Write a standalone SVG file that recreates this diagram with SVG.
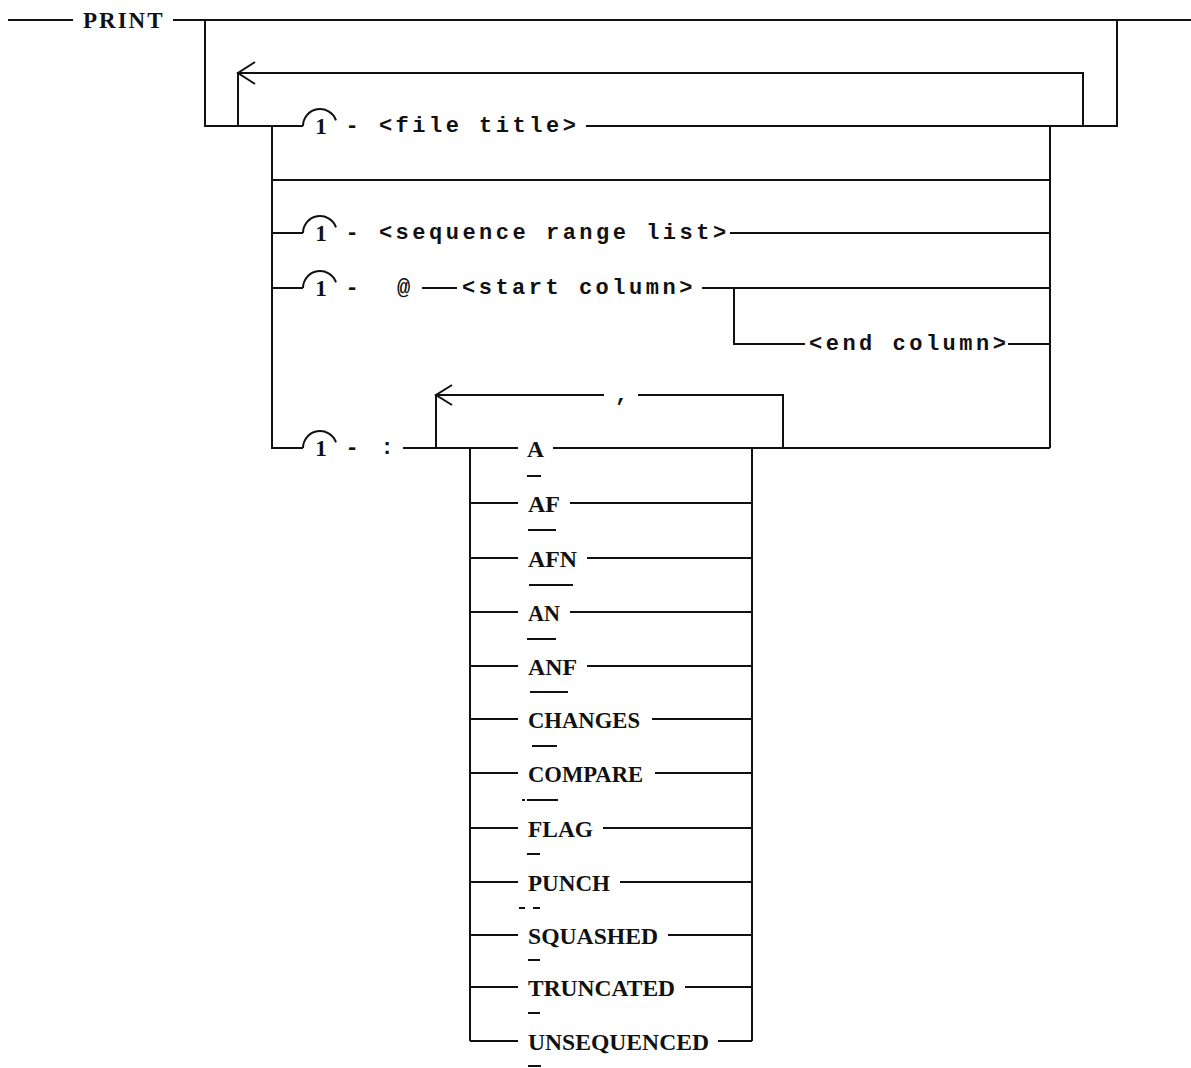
<svg xmlns="http://www.w3.org/2000/svg" width="1191" height="1068" viewBox="0 0 1191 1068">
<style>
.ln{fill:none;stroke:#111;stroke-width:2;stroke-linecap:butt;stroke-linejoin:miter}
.ul{fill:none;stroke:#111;stroke-width:2}
.kw{font-family:"Liberation Serif","Times New Roman",serif;font-weight:bold;font-size:24px;fill:#111}
.one{font-family:"Liberation Serif","Times New Roman",serif;font-weight:bold;font-size:23px;fill:#111}
.mono{font-family:"Liberation Mono","Courier New",monospace;font-weight:bold;font-size:22px;letter-spacing:3.5px;fill:#111}
.title{font-family:"Liberation Serif","Times New Roman",serif;font-weight:bold;font-size:23px;letter-spacing:2px;fill:#111}
</style>
<rect width="1191" height="1068" fill="#fff"/>
<g id="connectors">
<path class="ln" d="M8,20 H73"/>
<path class="ln" d="M173,20 H1191"/>
<path class="ln" d="M205,20 V126 H303"/>
<path class="ln" d="M238,126 V73 H1083 V126"/>
<path class="ln" d="M255,62 L238,73 L255,84"/>
<path class="ln" d="M586,126 H1117 V20"/>
<path class="ln" d="M272,126 V448 H303"/>
<path class="ln" d="M1050,126 V448"/>
<path class="ln" d="M272,180 H1050"/>
<path class="ln" d="M272,233 H303 M730,233 H1050"/>
<path class="ln" d="M272,288 H303 M422,288 H457 M702,288 H1050"/>
<path class="ln" d="M734,288 V344 H805 M1008,344 H1050"/>
<path class="ln" d="M403,448 H518 M553,448 H1050"/>
<path class="ln" d="M436,448 V395 H604 M638,395 H783 V448"/>
<path class="ln" d="M452,385 L436,395 L452,405"/>
<path class="ln" d="M470,448 V1041 M752,448 V1041"/>
<path class="ln" d="M303,126 A17,17 0 0 1 336,120.3 M303,233 A17,17 0 0 1 336,227.3 M303,288 A17,17 0 0 1 336,282.3 M303,448 A17,17 0 0 1 336,442.3"/>
<path class="ln" d="M470,503 H518 M570,503 H752 M470,558 H518 M587,558 H752 M470,612 H518 M570,612 H752 M470,666 H518 M587,666 H752 M470,719 H518 M652,719 H752 M470,773 H518 M655,773 H752 M470,828 H518 M603,828 H752 M470,882 H518 M620,882 H752 M470,935 H518 M668,935 H752 M470,987 H518 M685,987 H752 M470,1041 H518 M718,1041 H752"/>
</g>
<g id="print"><text class="title" x="83" y="28">PRINT</text></g>
<g id="row-file-title">
<text class="one" x="321" y="134" text-anchor="middle">1</text>
<text class="mono" x="345.5" y="132">- &lt;file title&gt;</text>
</g>
<g id="row-sequence">
<text class="one" x="321" y="241" text-anchor="middle">1</text>
<text class="mono" x="345.5" y="239">- &lt;sequence range list&gt;</text>
</g>
<g id="row-column">
<text class="one" x="321" y="296" text-anchor="middle">1</text>
<text class="mono" x="345.5" y="294">-</text>
<text class="mono" x="397" y="294">@</text>
<text class="mono" x="462" y="294">&lt;start column&gt;</text>
</g>
<g id="end-column"><text class="mono" x="809" y="350">&lt;end column&gt;</text></g>
<g id="row-options">
<text class="one" x="321" y="456" text-anchor="middle">1</text>
<text class="mono" x="345.5" y="454">-</text>
<text class="mono" x="380.5" y="454">:</text>
<text class="mono" x="615" y="401">,</text>
</g>
<g id="keywords">
<text class="kw" x="527" y="457" textLength="17" lengthAdjust="spacingAndGlyphs">A</text>
<text class="kw" x="528" y="512" textLength="32" lengthAdjust="spacingAndGlyphs">AF</text>
<text class="kw" x="528" y="567" textLength="49" lengthAdjust="spacingAndGlyphs">AFN</text>
<text class="kw" x="528" y="621" textLength="32" lengthAdjust="spacingAndGlyphs">AN</text>
<text class="kw" x="528" y="675" textLength="49" lengthAdjust="spacingAndGlyphs">ANF</text>
<text class="kw" x="528" y="728" textLength="112" lengthAdjust="spacingAndGlyphs">CHANGES</text>
<text class="kw" x="528" y="782" textLength="115" lengthAdjust="spacingAndGlyphs">COMPARE</text>
<text class="kw" x="528" y="837" textLength="65" lengthAdjust="spacingAndGlyphs">FLAG</text>
<text class="kw" x="528" y="891" textLength="82" lengthAdjust="spacingAndGlyphs">PUNCH</text>
<text class="kw" x="528" y="944" textLength="130" lengthAdjust="spacingAndGlyphs">SQUASHED</text>
<text class="kw" x="528" y="996" textLength="147" lengthAdjust="spacingAndGlyphs">TRUNCATED</text>
<text class="kw" x="528" y="1050" textLength="181" lengthAdjust="spacingAndGlyphs">UNSEQUENCED</text>
<path class="ul" d="M527,476 H541 M528,530 H556 M529,585 H573 M527,639 H556 M530,692 H568 M532,746 H557 M522,800 H525 M527,800 H558 M527,854 H540 M519,908 H525 M533,908 H540 M528,960 H540 M528,1013 H540 M528,1066 H541"/>
</g>
</svg>
